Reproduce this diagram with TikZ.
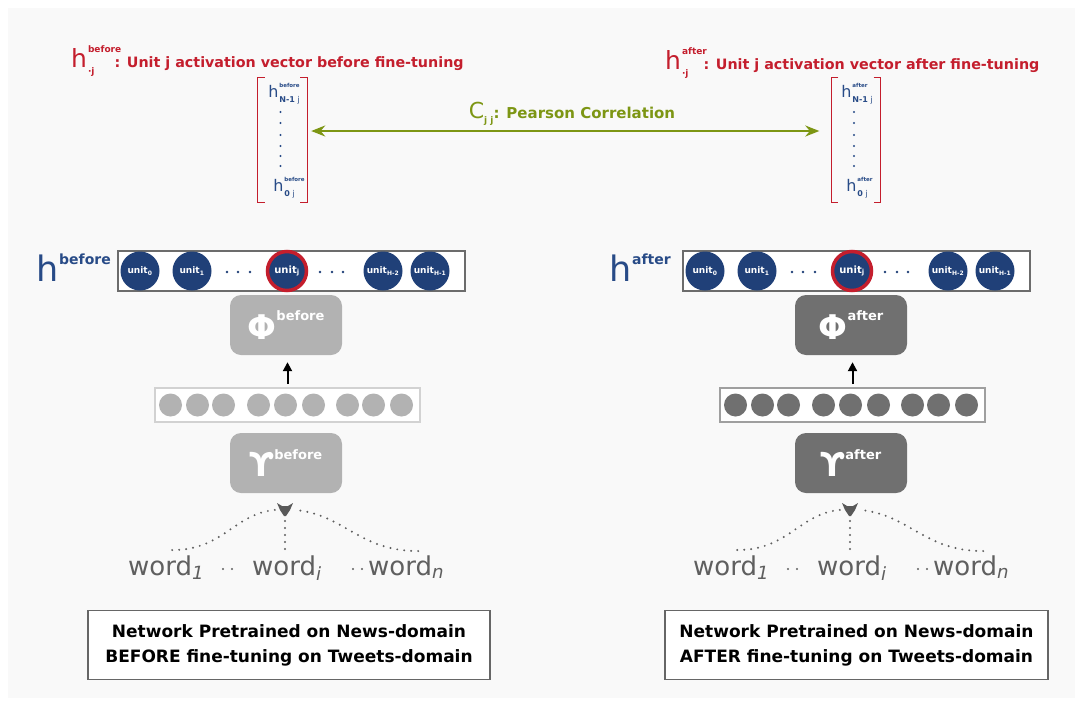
\documentclass[tikz,border=0pt]{standalone}
\usepackage{fontspec}
\setmainfont{DejaVu Sans}
\usetikzlibrary{arrows.meta,positioning}
\definecolor{redA}  {RGB}{196, 30,  45}
\definecolor{navyA} {RGB}{32,  64,  120}
\definecolor{blueA} {RGB}{40,  75,  135}
\definecolor{greenA}{RGB}{125, 150, 20}
\definecolor{lightA}{RGB}{178, 178, 178}
\definecolor{darkA} {RGB}{112, 112, 112}
\definecolor{wordA} {RGB}{95,  95,  95}
\definecolor{bgA}   {RGB}{249, 249, 249}

\newcommand{\fs}[1]{\fontsize{#1}{#1}\selectfont}
\newcommand{\hent}[2]{{\fs{16}h}\kern1pt\rlap{\raisebox{10pt}{\fs{5.5}\bfseries #1}}\raisebox{-5pt}{\fs{8}#2}}
\newcommand{\tagged}[4]{{\fs{#1}\bfseries #2}\raisebox{#3}{\fs{13}\bfseries #4}}

\begin{document}
\begin{tikzpicture}[x=1pt, y=-1pt,
  ttl/.style={inner sep=0pt, text=redA},
  hlab/.style={inner sep=0pt, text=blueA},
  unitn/.style={circle, fill=navyA, minimum size=39pt, inner sep=0pt, text=white, font=\fs{9}\bfseries},
  hitn/.style={unitn, draw=redA, line width=3.5pt, font=\fs{10}\bfseries},
  unitbox/.style={draw=gray!85!black, line width=2.5pt, fill=white, minimum width=347pt, minimum height=40pt, inner sep=0pt},
  rowbox/.style={line width=2pt, fill=white, minimum width=265pt, minimum height=34pt, inner sep=0pt},
  embn/.style={circle, minimum size=23pt, inner sep=0pt},
  netbox/.style={rounded corners=11pt, minimum width=112pt, minimum height=60pt, inner sep=0pt, text=white},
  wordn/.style={anchor=base west, inner sep=0pt, text=wordA, font=\fs{26}},
  dotln/.style={wordA, line width=2.2pt, line cap=round, dash pattern=on 0pt off 7pt},
  vecn/.style={minimum width=49pt, minimum height=124pt, inner sep=0pt},
  vtxt/.style={inner sep=0pt, text=blueA},
  brk/.style={redA, line width=1pt},
  corr/.style={greenA, line width=2.5pt, {Stealth[length=14pt,width=11pt]}-{Stealth[length=14pt,width=11pt]}},
  capbox/.style={draw=gray!80!black, line width=1.5pt, fill=white, minimum height=69pt, align=center, font=\fontsize{17}{25}\selectfont\bfseries}]

  \useasboundingbox (0,0) rectangle (1083,704);
  \fill[bgA] (8,8) rectangle (1075,698);

  % titles
  \node[ttl, anchor=base west] (tb) at (71,67) {{\fs{25}h}\kern1pt\rlap{\raisebox{15pt}{\fs{9}\bfseries before}}\raisebox{-7pt}{\fs{9}\bfseries ·j}\hspace{20pt}{\fs{14.3}\bfseries : Unit j activation vector before fine-tuning}};
  \node[ttl, anchor=base west] (ta) at (665,69) {{\fs{25}h}\kern1pt\rlap{\raisebox{15pt}{\fs{9}\bfseries after}}\raisebox{-7pt}{\fs{9}\bfseries ·j}\hspace{15pt}{\fs{14.3}\bfseries : Unit j activation vector after fine-tuning}};

  % activation vectors
  \node[vecn] (vb) at (282.5,140) {};
  \node[vecn] (va) at (856,140) {};
  \foreach \v in {vb,va} {
    \draw[brk] ([xshift=7pt]\v.north west) -- (\v.north west) -- (\v.south west) -- ([xshift=7pt]\v.south west);
    \draw[brk] ([xshift=-7pt]\v.north east) -- (\v.north east) -- (\v.south east) -- ([xshift=-7pt]\v.south east);
    \foreach \y in {-28,-17,-5,6,16,26}
      \fill[blueA] ([yshift=-\y pt]\v.center) ++(-2,0) circle (1.1pt);
  }
  \node[vtxt] (vbt) at (284,94) {\hent{before}{\textbf{N-1} j}};
  \node[vtxt] (vbo) at (284,188) {\hent{before}{\textbf{0} j}};
  \node[vtxt] (vat) at (857,94) {\hent{after}{\textbf{N-1} j}};
  \node[vtxt] (vao) at (857,188) {\hent{after}{\textbf{0} j}};

  \draw[corr, shorten <=4pt, shorten >=12pt] ([yshift=9pt]vb.east) -- ([yshift=9pt]va.west);
  \node[inner sep=0pt, text=greenA] (cjj) at (572,114) {{\fs{22}C}\raisebox{-5pt}{\fs{9}\bfseries j j}{\fs{15}\bfseries : Pearson Correlation}};

  % hidden layers
  \node[hlab, anchor=base east] (hb) at (111,281) {{\fs{35}h}\raisebox{17pt}{\fs{14}\bfseries before}};
  \node[hlab, anchor=base east] (ha) at (671,281) {{\fs{35}h}\raisebox{17pt}{\fs{14}\bfseries after}};

  \foreach \s/\dx/\tag/\fillc/\rowc in {b/0/before/lightA/gray!35, a/565/after/darkA/gray!75} {
    \node[unitbox] (ub\s) at (291.5+\dx,271) {};
    \node[unitn] (u0\s) at (140+\dx,271) {unit\textsubscript{0}};
    \node[unitn] (u1\s) at (192+\dx,271) {unit\textsubscript{1}};
    \node[hitn]  (uj\s) at (287+\dx,271) {unit\textsubscript{j}};
    \node[unitn] (u2\s) at (383+\dx,271) {unit\textsubscript{H-2}};
    \node[unitn] (u3\s) at (430+\dx,271) {unit\textsubscript{H-1}};
    \foreach \c in {227,238,250,320,332,343}
      \fill[navyA] (\c+\dx,272) circle (1.3pt);

    \node[netbox, fill=\fillc] (phi\s) at (286+\dx,325) {\tagged{34}{Φ}{19pt}{\tag}};

    \node[rowbox, draw=\rowc] (row\s) at (287.5+\dx,405) {};
    \foreach \c in {-117,-90,-64,-29,-2,26,60,86,114}
      \node[embn, fill=\fillc] at ([xshift=\c pt]row\s.center) {};
    \draw[line width=2pt, -{Triangle[length=9pt,width=9pt]}, shorten <=3pt, shorten >=7pt] (row\s.north) -- (row\s.north |- phi\s.south);

    \node[netbox, fill=\fillc] (ups\s) at (286+\dx,463) {\tagged{33}{ϒ}{17pt}{\tag}};

    % input words
    \node[wordn] (w1\s) at (128+\dx,575) {word\textsubscript{\itshape 1}};
    \node[wordn] (wi\s) at (252+\dx,575) {word\textsubscript{\itshape i}};
    \node[wordn] (wn\s) at (368+\dx,575) {word\textsubscript{\itshape n}};
    \foreach \c in {223,232,353,362}
      \fill[wordA] (\c+\dx,569) circle (1.2pt);

    \coordinate (mg\s) at (285+\dx,509);
    \draw[dotln, shorten >=9pt] ([xshift=6pt,yshift=5pt]w1\s.north) to[out=0, in=185, looseness=1.1] (mg\s);
    \draw[dotln, shorten >=9pt] ([xshift=12pt,yshift=4pt]wn\s.north) to[out=180, in=-5, looseness=1.1] (mg\s);
    \draw[dotln, shorten <=12pt, shorten >=5pt] (mg\s) -- (mg\s |- wi\s.north);
    \begin{scope}[shift={(mg\s)}]
      \fill[gray!70!black] (-8,-6) -- (-3,-3) -- (3,-3) -- (8,-6) -- (5,1) -- (1,7) -- (-1,7) -- (-5,1) -- cycle;
    \end{scope}
  }

  % captions
  \node[capbox, minimum width=402pt] (capb) at (289,645) {Network Pretrained on News-domain\\BEFORE fine-tuning on Tweets-domain};
  \node[capbox, minimum width=383pt] (capa) at (856.5,645) {Network Pretrained on News-domain\\AFTER fine-tuning on Tweets-domain};
\end{tikzpicture}
\end{document}
